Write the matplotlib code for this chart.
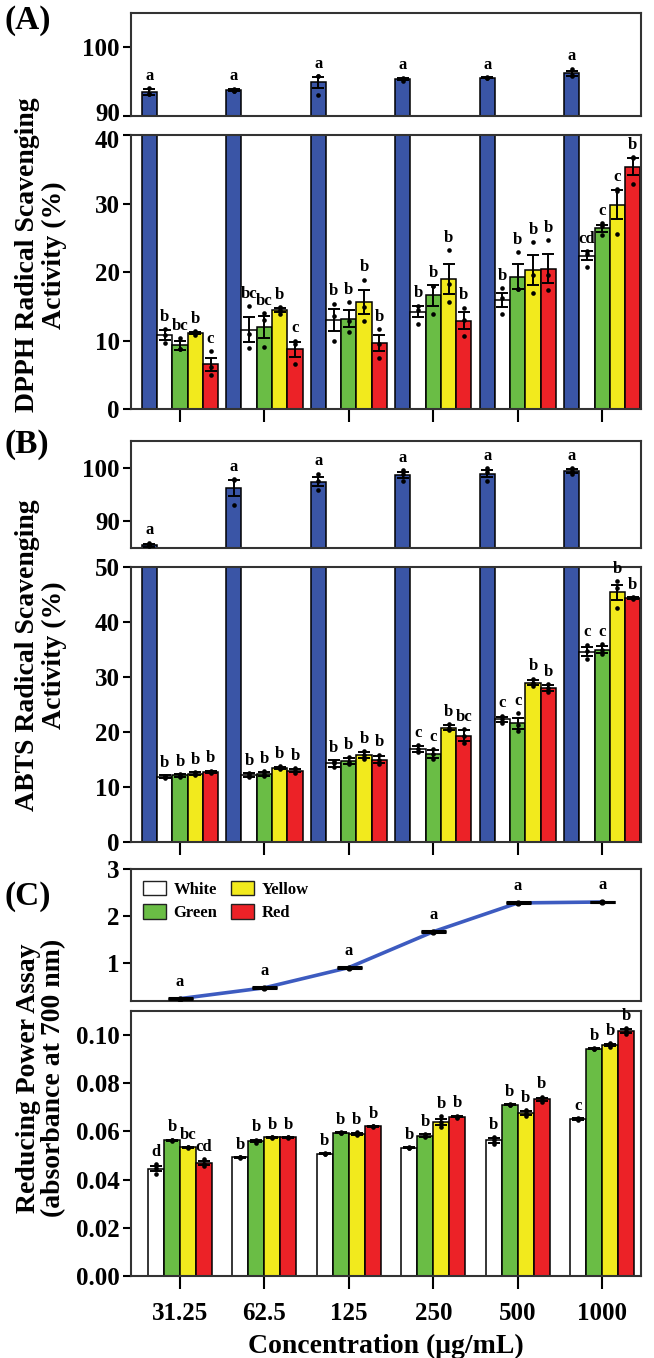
import matplotlib
matplotlib.use("Agg")
import matplotlib.pyplot as plt
from matplotlib.patches import Patch
from matplotlib.transforms import ScaledTranslation
import numpy as np

plt.rcParams['font.family'] = ['Liberation Serif', 'DejaVu Serif']
plt.rcParams['font.weight'] = 'bold'
plt.rcParams['axes.linewidth'] = 1.5
plt.rcParams['mathtext.default'] = 'regular'

# ---------------- data ----------------
concentrations = ["31.25", "62.5", "125", "250", "500", "1000"]
series_names = ["White", "Green", "Yellow", "Red"]
series_colors = ["#FFFFFF", "#6ABD45", "#F2EA1D", "#EC2227"]
std_color = "#3A55A6"

# (A) DPPH
dpph_std = [93.5, 93.8, 94.9, 95.4, 95.6, 96.2]
dpph_std_sem = [0.45, 0.2, 0.85, 0.2, 0.1, 0.4]
dpph_std_pts = [[94.1, 93.2, 93.2], [94.0, 93.7, 93.6], [95.8, 93.1, 95.8],
                [95.6, 95.4, 95.1], [95.7, 95.6, 95.5], [96.9, 95.8, 95.9]]

dpph_white = [10.8, 11.6, 13.0, 14.2, 15.9, 22.4]
dpph_white_sem = [0.7, 1.8, 1.6, 0.8, 1.0, 0.7]
dpph_white_pts = [[11.7, 10.8, 9.6], [15.0, 11.0, 8.9], [15.4, 13.6, 9.9],
                  [15.1, 14.4, 12.4], [17.6, 16.2, 13.9], [23.1, 22.6, 20.8]]
dpph_green = [9.3, 12.0, 13.2, 16.6, 19.3, 26.4]
dpph_green_sem = [0.65, 1.6, 1.3, 1.5, 1.8, 0.5]
dpph_green_pts = [[10.4, 8.8, 8.7], [14.0, 13.0, 9.0], [15.6, 12.8, 11.2],
                  [18.0, 18.0, 13.8], [22.9, 17.5, 17.5], [27.1, 26.7, 25.4]]
dpph_yellow = [11.1, 14.4, 15.6, 19.0, 20.3, 29.8]
dpph_yellow_sem = [0.2, 0.3, 1.75, 2.2, 2.2, 2.1]
dpph_yellow_pts = [[11.4, 11.1, 10.8], [14.9, 14.5, 13.8], [18.9, 14.9, 12.9],
                   [23.2, 18.2, 15.6], [24.4, 19.6, 16.9], [32.1, 31.8, 25.6]]
dpph_red = [6.5, 8.7, 9.6, 12.9, 20.5, 35.4]
dpph_red_sem = [1.0, 1.1, 1.2, 1.2, 2.1, 1.2]
dpph_red_pts = [[8.5, 6.1, 4.9], [10.0, 9.5, 6.5], [11.7, 9.5, 7.5],
                [14.8, 13.0, 10.7], [24.6, 19.6, 17.3], [36.8, 36.6, 32.8]]
dpph_letters_white = ["b", "bc", "b", "b", "b", "cd"]
dpph_letters_green = ["bc", "bc", "b", "b", "b", "c"]
dpph_letters_yellow = ["b", "b", "b", "b", "b", "c"]
dpph_letters_red = ["c", "c", "b", "b", "b", "b"]

# (B) ABTS
abts_std = [85.5, 96.2, 97.4, 98.6, 98.9, 99.4]
abts_std_sem = [0.3, 1.5, 0.9, 0.6, 0.7, 0.35]
abts_std_pts = [[86.0, 85.5, 85.3], [97.9, 97.7, 93.1], [98.9, 97.6, 95.8],
                [99.5, 98.8, 97.6], [100.0, 99.2, 97.6], [100.0, 99.4, 98.8]]

abts_white = [11.9, 12.2, 14.3, 16.9, 22.3, 34.6]
abts_white_sem = [0.2, 0.3, 0.6, 0.5, 0.5, 0.8]
abts_white_pts = [[12.0, 11.9, 11.7], [12.5, 12.2, 11.9], [14.8, 14.4, 13.6],
                  [17.6, 16.9, 16.3], [23.0, 22.3, 21.7], [35.9, 34.7, 33.2]]
abts_green = [12.1, 12.4, 14.7, 16.0, 21.6, 35.0]
abts_green_sem = [0.2, 0.4, 0.6, 0.7, 1.0, 0.6]
abts_green_pts = [[12.4, 12.0, 11.9], [12.9, 12.4, 12.0], [15.4, 14.6, 14.1],
                  [16.9, 16.0, 15.1], [23.5, 21.3, 20.1], [36.0, 35.0, 34.1]]
abts_yellow = [12.4, 13.5, 15.8, 20.8, 29.0, 45.4]
abts_yellow_sem = [0.3, 0.2, 0.6, 0.4, 0.4, 1.4]
abts_yellow_pts = [[12.7, 12.4, 12.2], [13.8, 13.5, 13.3], [16.6, 15.8, 15.1],
                   [21.4, 20.8, 20.3], [29.7, 29.0, 28.4], [47.5, 46.1, 42.6]]
abts_red = [12.8, 13.0, 15.0, 19.3, 28.0, 44.3]
abts_red_sem = [0.2, 0.3, 0.7, 1.0, 0.5, 0.2]
abts_red_pts = [[13.0, 12.8, 12.6], [13.4, 13.0, 12.6], [15.9, 15.0, 14.1],
                [20.6, 19.3, 18.0], [28.7, 28.0, 27.3], [44.5, 44.3, 44.1]]
abts_letters_white = ["b", "b", "b", "c", "c", "c"]
abts_letters_green = ["b", "b", "b", "c", "c", "c"]
abts_letters_yellow = ["b", "b", "b", "b", "b", "b"]
abts_letters_red = ["b", "b", "b", "bc", "b", "b"]

# (C) Reducing power
rp_std = [0.25, 0.48, 0.91, 1.67, 2.28, 2.30]
rp_std_sem = [0.01, 0.01, 0.01, 0.01, 0.01, 0.01]
rp_white = [0.0445, 0.0492, 0.0507, 0.0532, 0.0563, 0.0652]
rp_white_sem = [0.0011, 0.0002, 0.0002, 0.0002, 0.0009, 0.0003]
rp_white_pts = [[0.0465, 0.0447, 0.0423], [0.0494, 0.0492, 0.0490], [0.0509, 0.0506, 0.0506],
                [0.0534, 0.0532, 0.0531], [0.0578, 0.0564, 0.0547], [0.0657, 0.0650, 0.0649]]
rp_green = [0.0563, 0.0560, 0.0594, 0.0583, 0.0711, 0.0944]
rp_green_sem = [0.0003, 0.0005, 0.0002, 0.0005, 0.0003, 0.0002]
rp_green_pts = [[0.0566, 0.0563, 0.0561], [0.0566, 0.0560, 0.0554], [0.0597, 0.0594, 0.0592],
                [0.0589, 0.0583, 0.0577], [0.0715, 0.0711, 0.0708], [0.0946, 0.0944, 0.0942]]
rp_yellow = [0.0534, 0.0575, 0.0591, 0.0640, 0.0677, 0.0959]
rp_yellow_sem = [0.0002, 0.0002, 0.0004, 0.0012, 0.0008, 0.0006]
rp_yellow_pts = [[0.0536, 0.0534, 0.0532], [0.0577, 0.0575, 0.0573], [0.0596, 0.0590, 0.0587],
                 [0.0665, 0.0638, 0.0617], [0.0689, 0.0675, 0.0666], [0.0968, 0.0960, 0.0949]]
rp_red = [0.0468, 0.0575, 0.0622, 0.0661, 0.0733, 0.1016]
rp_red_sem = [0.0008, 0.0002, 0.0002, 0.0003, 0.0006, 0.0008]
rp_red_pts = [[0.0484, 0.0466, 0.0455], [0.0577, 0.0575, 0.0573], [0.0624, 0.0622, 0.0620],
              [0.0666, 0.0660, 0.0657], [0.0745, 0.0731, 0.0724], [0.1029, 0.1017, 0.1003]]
rp_letters_std = ["a", "a", "a", "a", "a", "a"]
rp_letters_white = ["d", "b", "b", "b", "b", "c"]
rp_letters_green = ["b", "b", "b", "b", "b", "b"]
rp_letters_yellow = ["bc", "b", "b", "b", "b", "b"]
rp_letters_red = ["cd", "b", "b", "b", "b", "b"]
std_letters = ["a", "a", "a", "a", "a", "a"]

# ---------------- figure ----------------
W, H = 654, 1358
fig = plt.figure(figsize=(W / 100, H / 100), dpi=100)
LEFT, RIGHT = 131, 641
XLIM = (-0.58, 5.46)
SPINE = "#333333"
TICK_FS = 18
LET_FS = 12


def ax_at(top, bottom):
    ax = fig.add_axes([LEFT / W, 1 - bottom / H, (RIGHT - LEFT) / W, (bottom - top) / H])
    ax.set_xlim(*XLIM)
    for s in ax.spines.values():
        s.set_color(SPINE)
        s.set_linewidth(1.5)
    ax.tick_params(axis='y', direction='out', length=6, width=1.5, labelsize=TICK_FS, pad=2)
    ax.tick_params(axis='x', direction='out', length=9, width=1.5, labelsize=TICK_FS)
    ax.set_xticks(range(len(concentrations)))
    return ax


def bars(ax, offset, width, means, sems, pts, color, letters=None, zorder=2):
    x = np.arange(len(means)) + offset * width
    ax.bar(x, means, width=width, color=color, edgecolor='black', linewidth=1.1, zorder=zorder)
    ax.errorbar(x, means, yerr=sems, fmt='none', ecolor='black', elinewidth=1.4,
                capsize=4, capthick=1.4, zorder=zorder + 1)
    for i in range(len(means)):
        ax.scatter([x[i]] * len(pts[i]), pts[i], s=11, color='black', zorder=zorder + 2,
                   linewidths=0)
        if letters is not None:
            top = max(max(pts[i]), means[i] + sems[i])
            ax.annotate(letters[i], (x[i], top), xytext=(0, 3), textcoords='offset points',
                        ha='center', va='bottom', fontsize=LET_FS, fontweight='bold',
                        annotation_clip=False)


def std_top(ax, means, sems, pts, width):
    bars(ax, -2, width, means, sems, pts, std_color, std_letters)
    ax.set_xticks([])


def nudge_ylabel(ax, idx, dy_px):
    lab = ax.yaxis.get_major_ticks()[idx].label1
    lab.set_transform(lab.get_transform() + ScaledTranslation(0, dy_px / 100, fig.dpi_scale_trans))


W5 = 0.181
W4 = 0.19

# ---- (A) ----
axA1 = ax_at(13, 116)
std_top(axA1, dpph_std, dpph_std_sem, dpph_std_pts, W5)
axA1.set_ylim(90, 105)
axA1.set_yticks([90, 100])

axA2 = ax_at(135, 409)
bars(axA2, -2, W5, dpph_std, dpph_std_sem, dpph_std_pts, std_color)
bars(axA2, -1, W5, dpph_white, dpph_white_sem, dpph_white_pts, series_colors[0], dpph_letters_white)
bars(axA2, 0, W5, dpph_green, dpph_green_sem, dpph_green_pts, series_colors[1], dpph_letters_green)
bars(axA2, 1, W5, dpph_yellow, dpph_yellow_sem, dpph_yellow_pts, series_colors[2], dpph_letters_yellow)
bars(axA2, 2, W5, dpph_red, dpph_red_sem, dpph_red_pts, series_colors[3], dpph_letters_red)
axA2.set_ylim(0, 40)
axA2.set_yticks([0, 10, 20, 30, 40])
axA2.set_xticklabels([])
nudge_ylabel(axA1, 0, 4)
nudge_ylabel(axA2, 4, -4)

# ---- (B) ----
axB1 = ax_at(441, 548)
std_top(axB1, abts_std, abts_std_sem, abts_std_pts, W5)
axB1.set_ylim(85, 105)
axB1.set_yticks([90, 100])

axB2 = ax_at(567, 842)
bars(axB2, -2, W5, abts_std, abts_std_sem, abts_std_pts, std_color)
bars(axB2, -1, W5, abts_white, abts_white_sem, abts_white_pts, series_colors[0], abts_letters_white)
bars(axB2, 0, W5, abts_green, abts_green_sem, abts_green_pts, series_colors[1], abts_letters_green)
bars(axB2, 1, W5, abts_yellow, abts_yellow_sem, abts_yellow_pts, series_colors[2], abts_letters_yellow)
bars(axB2, 2, W5, abts_red, abts_red_sem, abts_red_pts, series_colors[3], abts_letters_red)
axB2.set_ylim(0, 50)
axB2.set_yticks([0, 10, 20, 30, 40, 50])
axB2.set_xticklabels([])

# ---- (C) ----
axC1 = ax_at(869, 1001)
xc = np.arange(len(rp_std))
axC1.plot(xc, rp_std, color="#3D5BC0", lw=2.6, zorder=2)
axC1.errorbar(xc, rp_std, yerr=rp_std_sem, fmt='o', color='black', ms=3.5,
              capsize=9, elinewidth=1.5, capthick=2.2, zorder=3)
for i in range(len(rp_std)):
    axC1.annotate(rp_letters_std[i], (xc[i], rp_std[i] + rp_std_sem[i]), xytext=(0, 6),
                  textcoords='offset points', ha='center', va='bottom',
                  fontsize=LET_FS, fontweight='bold')
axC1.set_ylim(0.2, 3)
axC1.set_yticks([1, 2, 3])
axC1.set_xticks([])
handles = [Patch(facecolor=c, edgecolor='#222222', linewidth=1.0) for c in series_colors]
leg = axC1.legend(handles, series_names, ncol=2, loc='upper left', frameon=False,
                  prop={'family': 'Liberation Serif', 'weight': 'bold', 'size': 12},
                  handlelength=1.4, handleheight=0.95, columnspacing=0.8,
                  handletextpad=0.45, borderaxespad=0.3, labelspacing=0.4)

axC2 = ax_at(1011, 1276)
bars(axC2, -1.5, W4, rp_white, rp_white_sem, rp_white_pts, series_colors[0], rp_letters_white)
bars(axC2, -0.5, W4, rp_green, rp_green_sem, rp_green_pts, series_colors[1], rp_letters_green)
bars(axC2, 0.5, W4, rp_yellow, rp_yellow_sem, rp_yellow_pts, series_colors[2], rp_letters_yellow)
bars(axC2, 1.5, W4, rp_red, rp_red_sem, rp_red_pts, series_colors[3], rp_letters_red)
axC2.set_ylim(0, 0.11)
axC2.set_yticks([0.0, 0.02, 0.04, 0.06, 0.08, 0.10])
axC2.set_yticklabels(["0.00", "0.02", "0.04", "0.06", "0.08", "0.10"])
axC2.set_xticklabels(concentrations)
axC2.tick_params(axis='x', pad=10)
axC2.set_xlabel("Concentration (\u03bcg/mL)", fontsize=20, fontweight='bold', labelpad=6)

# ---- y labels and panel tags ----
fig.text(41 / W, 1 - 255 / H, "DPPH Radical Scavenging\nActivity (%)", rotation=90,
         ha='center', va='center', fontsize=20, fontweight='bold', multialignment='center',
         linespacing=1.05)
fig.text(41 / W, 1 - 655 / H, "ABTS Radical Scavenging\nActivity (%)", rotation=90,
         ha='center', va='center', fontsize=20, fontweight='bold', multialignment='center',
         linespacing=1.05)
fig.text(41 / W, 1 - 1078 / H, "Reducing Power Assay\n(absorbance at 700 nm)", rotation=90,
         ha='center', va='center', fontsize=20, fontweight='bold', multialignment='center',
         linespacing=1.05)
for lab, yc in [("(A)", 20), ("(B)", 445), ("(C)", 897)]:
    fig.text(4 / W, 1 - yc / H, lab, ha='left', va='center', fontsize=24, fontweight='bold')

fig.savefig("out.png", dpi=100)
